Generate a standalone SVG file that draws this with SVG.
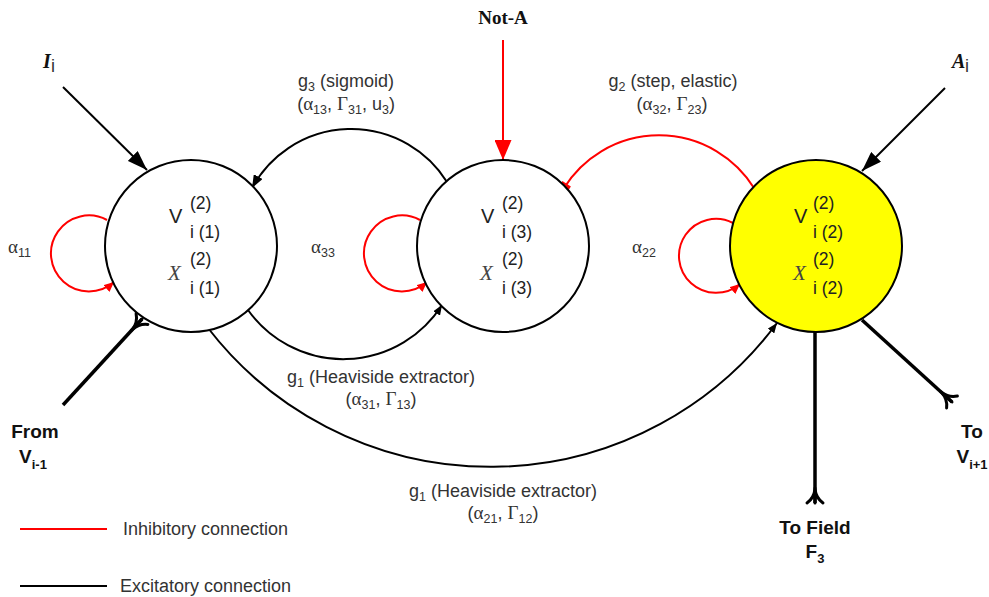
<svg xmlns="http://www.w3.org/2000/svg" width="989" height="597" viewBox="0 0 989 597">
  <style>
    .lbl { font-family: "Liberation Sans", Arial, sans-serif; font-size: 18px; fill: #333; }
    .sub { font-size: 12.5px; }
    .gk { font-family: "Liberation Serif", "Times New Roman", serif; font-size: 19px; }
    .bold { font-family: "Liberation Sans", Arial, sans-serif; font-weight: bold; font-size: 19px; fill: #111; }
    .bsub { font-size: 13px; }
    .bserif { font-family: "Liberation Serif", "Times New Roman", serif; font-weight: bold; fill: #111; }
    .node { fill: #fff; stroke: #000; stroke-width: 2; }
    .hot { fill: #ffff00; }
    .nt { font-family: "Liberation Sans", Arial, sans-serif; font-size: 20px; fill: #222; }
    .ns { font-family: "Liberation Sans", Arial, sans-serif; font-size: 17.5px; fill: #222; }
    .nx { font-family: "Liberation Serif", "Times New Roman", serif; font-style: italic; font-size: 21px; fill: #444; }
    .exc { fill: none; stroke: #000; stroke-width: 2; }
    .inh { fill: none; stroke: #ff0000; stroke-width: 2; }
    .thick { fill: none; stroke: #000; stroke-width: 3.5; }
  </style>
  <defs>
    <marker id="arrowL" markerUnits="userSpaceOnUse" markerWidth="20" markerHeight="14" viewBox="0 0 20 14" refX="20" refY="7" orient="auto">
      <path d="M0,0 L20,7 L0,14 z" fill="#000"/>
    </marker>
    <marker id="arrowLr" markerUnits="userSpaceOnUse" markerWidth="20" markerHeight="17" viewBox="0 0 20 17" refX="20" refY="8.5" orient="auto">
      <path d="M0,0 L20,8.5 L0,17 z" fill="#ff0000"/>
    </marker>
    <marker id="arrowM" markerUnits="userSpaceOnUse" markerWidth="13" markerHeight="10" viewBox="0 0 13 10" refX="13" refY="5" orient="auto">
      <path d="M0,0 L13,5 L0,10 z" fill="#000"/>
    </marker>
    <marker id="arrowS" markerUnits="userSpaceOnUse" markerWidth="10" markerHeight="8" viewBox="0 0 10 8" refX="10" refY="4" orient="auto">
      <path d="M0,0 L10,4 L0,8 z" fill="#000"/>
    </marker>
    <marker id="arrowSr" markerUnits="userSpaceOnUse" markerWidth="10" markerHeight="9" viewBox="0 0 10 9" refX="10" refY="4.5" orient="auto">
      <path d="M0,0 L10,4.5 L0,9 z" fill="#ff0000"/>
    </marker>
    <marker id="square" markerUnits="userSpaceOnUse" markerWidth="12" markerHeight="12" viewBox="-6 -6 12 12" refX="0" refY="0" orient="auto">
      <rect x="-5" y="-5" width="10" height="10" fill="#ff0000"/>
    </marker>
    <marker id="fork" markerUnits="userSpaceOnUse" markerWidth="22" markerHeight="22" viewBox="-4 -11 22 22" refX="15" refY="0" orient="auto" overflow="visible">
      <path d="M0,0 L15,0 M1,0 Q10,-1 15,-8 M1,0 Q10,1 15,8" fill="none" stroke="#000" stroke-width="3" stroke-linecap="round"/>
    </marker>
  </defs>

  <rect width="989" height="597" fill="#fff"/>

  <!-- connectors -->
  <g id="connectors">
    <!-- external inputs -->
    <line class="exc" x1="63" y1="87" x2="147" y2="170" marker-end="url(#arrowL)"/>
    <line class="exc" x1="945" y1="88" x2="862" y2="171" marker-end="url(#arrowL)"/>
    <line class="inh" x1="503" y1="40" x2="503" y2="160" marker-end="url(#arrowLr)"/>
    <!-- g3: node 3 to node 1 -->
    <path class="exc" d="M447,182 A113,113 0 0 0 252,188" marker-end="url(#arrowM)"/>
    <!-- g2: node 2 to node 3 (inhibitory) -->
    <path class="inh" d="M754,188 A112,112 0 0 0 564,188" marker-end="url(#square)"/>
    <!-- g1: node 1 to node 3 -->
    <path class="exc" d="M248,310 A117,117 0 0 0 442,305" marker-end="url(#arrowS)"/>
    <!-- g1: node 1 to node 2 -->
    <path class="exc" d="M208,328 A357,357 0 0 0 777,323" marker-end="url(#arrowS)"/>
    <!-- self loops -->
    <path class="inh" d="M107,220 A38,38 0 1 0 114,282" marker-end="url(#arrowSr)"/>
    <path class="inh" d="M420,220 A38,38 0 1 0 427,282" marker-end="url(#arrowSr)"/>
    <path class="inh" d="M733,223 A37,37 0 1 0 740,284" marker-end="url(#arrowSr)"/>
    <!-- lateral / field links -->
    <line class="thick" x1="63" y1="405" x2="142" y2="319" marker-end="url(#fork)"/>
    <line class="thick" x1="815" y1="332" x2="815" y2="503" marker-end="url(#fork)"/>
    <line class="thick" x1="862" y1="320" x2="952" y2="402" marker-end="url(#fork)"/>
  </g>

  <!-- nodes -->
  <g id="node-1">
    <circle class="node" cx="191" cy="246" r="86"/>
    <text class="nt" x="169" y="223">V</text>
    <text class="ns" x="190" y="209">(2)</text>
    <text class="ns" x="190" y="238">i (1)</text>
    <text class="nx" x="168" y="280">X</text>
    <text class="ns" x="190" y="265">(2)</text>
    <text class="ns" x="190" y="294">i (1)</text>
  </g>
  <g id="node-3">
    <circle class="node" cx="503" cy="246" r="86"/>
    <text class="nt" x="481" y="223">V</text>
    <text class="ns" x="502" y="209">(2)</text>
    <text class="ns" x="502" y="238">i (3)</text>
    <text class="nx" x="480" y="280">X</text>
    <text class="ns" x="502" y="265">(2)</text>
    <text class="ns" x="502" y="294">i (3)</text>
  </g>
  <g id="node-2">
    <circle class="node hot" cx="816" cy="246" r="86"/>
    <text class="nt" x="794" y="223">V</text>
    <text class="ns" x="813" y="209">(2)</text>
    <text class="ns" x="813" y="238">i (2)</text>
    <text class="nx" x="793" y="280">X</text>
    <text class="ns" x="813" y="265">(2)</text>
    <text class="ns" x="813" y="294">i (2)</text>
  </g>

  <!-- connector labels -->
  <g id="labels">
    <text class="bserif" x="43" y="68" font-size="20" font-style="italic">I</text>
    <text class="lbl" x="51" y="72" font-size="14">i</text>
    <text class="bserif" x="952" y="68" font-size="20" font-style="italic">A</text>
    <text class="lbl" x="965" y="72" font-size="14">i</text>
    <text class="bserif" x="503" y="24" font-size="19" text-anchor="middle">Not-A</text>

    <text class="lbl" x="346" y="87" text-anchor="middle">g<tspan class="sub" dy="4">3</tspan><tspan dy="-4"> (sigmoid)</tspan></text>
    <text class="lbl" x="346" y="110" text-anchor="middle">(<tspan class="gk">α</tspan><tspan class="sub" dy="4">13</tspan><tspan dy="-4">, </tspan><tspan class="gk">Γ</tspan><tspan class="sub" dy="4">31</tspan><tspan dy="-4">, u</tspan><tspan class="sub" dy="4">3</tspan><tspan dy="-4">)</tspan></text>

    <text class="lbl" x="673" y="87" text-anchor="middle">g<tspan class="sub" dy="4">2</tspan><tspan dy="-4"> (step, elastic)</tspan></text>
    <text class="lbl" x="672" y="110" text-anchor="middle">(<tspan class="gk">α</tspan><tspan class="sub" dy="4">32</tspan><tspan dy="-4">, </tspan><tspan class="gk">Γ</tspan><tspan class="sub" dy="4">23</tspan><tspan dy="-4">)</tspan></text>

    <text class="lbl" x="381" y="383" text-anchor="middle">g<tspan class="sub" dy="4">1</tspan><tspan dy="-4"> (Heaviside extractor)</tspan></text>
    <text class="lbl" x="381" y="405" text-anchor="middle">(<tspan class="gk">α</tspan><tspan class="sub" dy="4">31</tspan><tspan dy="-4">, </tspan><tspan class="gk">Γ</tspan><tspan class="sub" dy="4">13</tspan><tspan dy="-4">)</tspan></text>

    <text class="lbl" x="503" y="497" text-anchor="middle">g<tspan class="sub" dy="4">1</tspan><tspan dy="-4"> (Heaviside extractor)</tspan></text>
    <text class="lbl" x="503" y="519" text-anchor="middle">(<tspan class="gk">α</tspan><tspan class="sub" dy="4">21</tspan><tspan dy="-4">, </tspan><tspan class="gk">Γ</tspan><tspan class="sub" dy="4">12</tspan><tspan dy="-4">)</tspan></text>

    <text class="lbl" x="8" y="253"><tspan class="gk">α</tspan><tspan class="sub" dy="4">11</tspan></text>
    <text class="lbl" x="311" y="253"><tspan class="gk">α</tspan><tspan class="sub" dy="4">33</tspan></text>
    <text class="lbl" x="632" y="253"><tspan class="gk">α</tspan><tspan class="sub" dy="4">22</tspan></text>

    <text class="bold" x="35" y="438" text-anchor="middle">From</text>
    <text class="bold" x="33" y="463" text-anchor="middle">V<tspan class="bsub" dy="6">i-1</tspan></text>
    <text class="bold" x="972" y="438" text-anchor="middle">To</text>
    <text class="bold" x="972" y="463" text-anchor="middle">V<tspan class="bsub" dy="6">i+1</tspan></text>
    <text class="bold" x="815" y="534" text-anchor="middle">To Field</text>
    <text class="bold" x="815" y="558" text-anchor="middle">F<tspan class="bsub" dy="5">3</tspan></text>
  </g>

  <!-- legend -->
  <g id="legend">
    <line x1="20" y1="529" x2="107" y2="529" stroke="#ff0000" stroke-width="2"/>
    <text class="lbl" x="123" y="535">Inhibitory connection</text>
    <line x1="20" y1="586" x2="107" y2="586" stroke="#000" stroke-width="2"/>
    <text class="lbl" x="120" y="592">Excitatory connection</text>
  </g>
</svg>
